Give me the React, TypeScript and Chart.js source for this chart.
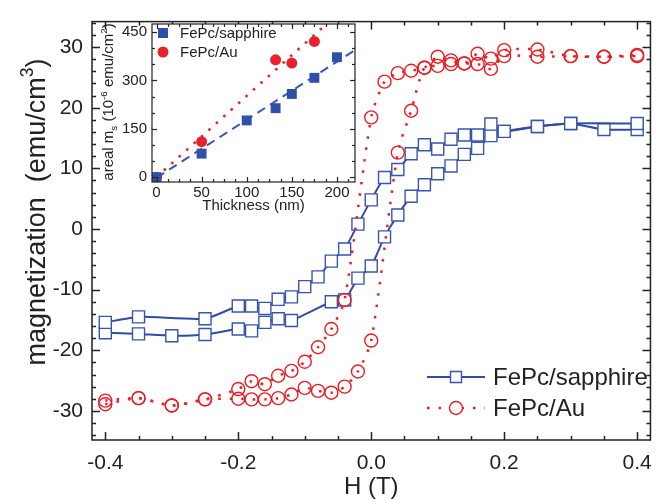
import React, { useEffect, useRef } from 'react';
import { Chart, registerables } from 'chart.js';
Chart.register(...registerables);

const FONT = '"Liberation Sans", Arial, Helvetica, sans-serif';
const INK = '#222222';
const BLUE = '#3556ae';
const BLUE_LINE = '#2e4ca2';
const RED = '#ec1c24';

// ---- main panel: magnetization (emu/cm^3) vs H (T) ----
// FePc/sapphire, descending-field branch (listed by increasing H)
const H_SAP_DOWN = [-0.40, -0.35, -0.25, -0.20, -0.18, -0.16, -0.14, -0.12, -0.10, -0.08, -0.06, -0.04, -0.02, 0.00, 0.02, 0.04, 0.06, 0.08, 0.10, 0.12, 0.14, 0.16, 0.18, 0.20, 0.25, 0.30, 0.40];
const M_SAP_DOWN = [-15.4, -14.5, -14.8, -12.7, -12.7, -13.1, -11.6, -11.2, -9.5, -7.9, -5.3, -3.3, 0.8, 4.8, 8.5, 9.8, 12.4, 13.9, 13.2, 14.8, 15.5, 15.5, 17.3, 16.1, 16.9, 17.4, 17.4];
// FePc/sapphire, ascending-field branch
const H_SAP_UP = [-0.40, -0.35, -0.30, -0.25, -0.20, -0.18, -0.16, -0.14, -0.12, -0.06, -0.04, -0.02, 0.00, 0.02, 0.04, 0.06, 0.08, 0.10, 0.12, 0.14, 0.16, 0.18, 0.20, 0.25, 0.30, 0.35, 0.40];
const M_SAP_UP = [-17.1, -17.3, -17.6, -17.4, -16.5, -16.8, -15.4, -14.8, -15.1, -12.0, -11.7, -8.1, -6.1, -1.3, 2.3, 5.4, 7.3, 9.1, 10.4, 12.3, 13.3, 15.4, 16.1, 16.9, 17.4, 16.4, 16.4];
// FePc/Au, descending-field branch
const H_AU_DOWN = [-0.40, -0.35, -0.30, -0.25, -0.20, -0.18, -0.16, -0.14, -0.12, -0.10, -0.08, -0.06, -0.04, 0.00, 0.02, 0.04, 0.06, 0.08, 0.10, 0.12, 0.14, 0.16, 0.18, 0.20, 0.25, 0.30, 0.35, 0.40];
const M_AU_DOWN = [-28.3, -27.9, -29.1, -28.1, -26.4, -25.1, -25.6, -24.2, -23.4, -21.9, -19.5, -16.5, -11.7, 18.4, 24.3, 25.7, 26.1, 26.6, 28.4, 27.8, 27.3, 28.9, 28.1, 29.5, 29.6, 28.5, 28.4, 28.7];
// FePc/Au, ascending-field branch
const H_AU_UP = [-0.40, -0.35, -0.30, -0.25, -0.20, -0.18, -0.16, -0.14, -0.12, -0.10, -0.08, -0.06, -0.04, -0.02, 0.00, 0.04, 0.06, 0.08, 0.10, 0.12, 0.14, 0.16, 0.18, 0.20, 0.25, 0.30, 0.35, 0.40];
const M_AU_UP = [-28.9, -27.9, -29.1, -28.1, -28.0, -28.1, -28.1, -27.9, -27.3, -26.2, -26.7, -27.0, -26.0, -23.5, -18.4, 12.6, 19.5, 26.6, 26.9, 27.2, 27.3, 27.2, 26.4, 28.5, 28.4, 28.5, 28.4, 28.5];

const SERIES_NAMES = ['FePc/sapphire', 'FePc/Au'];
const X_TITLE = 'H (T)';
const Y_TITLE_MAIN = 'magnetization  (emu/cm';
const Y_TITLE_SUP = '3';

// ---- inset: areal m_s vs thickness ----
const T_SAP = [0, 50, 100, 132, 150, 175, 200];
const MS_SAP = [0, 73, 176, 214, 258, 308, 372];
const T_AU = [0, 50, 132, 150, 175];
const MS_AU = [0, 110, 364, 354, 421];
const FIT_T_SAP = [0, 220];
const FIT_MS_SAP = [-2, 394];
const FIT_T_AU = [0, 188];
const FIT_MS_AU = [0, 474];
const INSET_X_TITLE = 'Thickness (nm)';

const toXY = (xs: number[], ys: number[]) => xs.map((x, i) => ({ x, y: ys[i] }));

const framePlugin = {
  id: 'frame',
  afterDraw(chart: any, _a: any, opts: any) {
    const { ctx, chartArea: a, scales } = chart;
    const xs = scales.x, ys = scales.y;
    ctx.save();
    ctx.strokeStyle = opts.color;
    ctx.lineWidth = opts.lineWidth;
    const seg = (x1: number, y1: number, x2: number, y2: number) => {
      ctx.beginPath(); ctx.moveTo(x1, y1); ctx.lineTo(x2, y2); ctx.stroke();
    };
    const isMajor = (v: number, step: number) => Math.abs(v / step - Math.round(v / step)) < 1e-6;
    const i0x = Math.ceil(xs.min / opts.xMinor - 1e-9);
    for (let i = i0x; i * opts.xMinor <= xs.max + 1e-9; i++) {
      const v = i * opts.xMinor;
      const len = isMajor(v, opts.xMajor) ? opts.majorLen : opts.minorLen;
      const p = Math.round(xs.getPixelForValue(v)) + 0.5;
      seg(p, a.bottom, p, a.bottom - len);
      seg(p, a.top, p, a.top + len);
    }
    const i0y = Math.ceil(ys.min / opts.yMinor - 1e-9);
    for (let i = i0y; i * opts.yMinor <= ys.max + 1e-9; i++) {
      const v = i * opts.yMinor;
      const len = isMajor(v, opts.yMajor) ? opts.majorLen : opts.minorLen;
      const p = Math.round(ys.getPixelForValue(v)) + 0.5;
      seg(a.left, p, a.left + len, p);
      seg(a.right, p, a.right - len, p);
    }
    ctx.strokeRect(a.left, a.top, a.right - a.left, a.bottom - a.top);
    ctx.restore();
  },
};

const whiteAreaPlugin = {
  id: 'whiteArea',
  beforeDraw(chart: any) {
    const { ctx, chartArea: a } = chart;
    ctx.save();
    ctx.fillStyle = '#ffffff';
    ctx.fillRect(a.left, a.top, a.right - a.left, a.bottom - a.top);
    ctx.restore();
  },
};

const drawMarker = (ctx: any, style: string, x: number, y: number, r: number, fill: string | null, stroke: string, lw: number) => {
  ctx.beginPath();
  if (style === 'rect') {
    ctx.rect(x - r, y - r, 2 * r, 2 * r);
  } else {
    ctx.arc(x, y, r, 0, Math.PI * 2);
  }
  if (fill) { ctx.fillStyle = fill; ctx.fill(); }
  if (lw > 0) { ctx.lineWidth = lw; ctx.strokeStyle = stroke; ctx.stroke(); }
};

const legendPlugin = {
  id: 'customLegend',
  afterDraw(chart: any, _a: any, opts: any) {
    const { ctx } = chart;
    ctx.save();
    for (const it of opts.items) {
      if (it.lineHalf > 0) {
        ctx.beginPath();
        ctx.setLineDash(it.dash || []);
        ctx.lineWidth = it.lineWidth;
        ctx.strokeStyle = it.lineColor;
        ctx.moveTo(it.x - it.lineHalf, it.y);
        ctx.lineTo(it.x + it.lineHalf, it.y);
        ctx.stroke();
        ctx.setLineDash([]);
      }
      drawMarker(ctx, it.pointStyle, it.x, it.y, it.r, it.fill, it.stroke, it.markerLw);
      ctx.font = `${opts.size}px ${FONT}`;
      ctx.fillStyle = INK;
      ctx.textBaseline = 'middle';
      ctx.textAlign = 'left';
      ctx.fillText(it.label, it.textX, it.y + 1);
    }
    ctx.restore();
  },
};

const richTitlePlugin = {
  id: 'richTitle',
  afterDraw(chart: any, _a: any, opts: any) {
    const { ctx } = chart;
    const base = opts.size;
    const small = base * 0.65;
    const fontFor = (p: any) => `${p.sub || p.sup ? small : base}px ${FONT}`;
    ctx.save();
    ctx.translate(opts.x, opts.y);
    ctx.rotate(-Math.PI / 2);
    let total = 0;
    for (const p of opts.parts) { ctx.font = fontFor(p); total += ctx.measureText(p.t).width; }
    let x = -total / 2;
    ctx.textBaseline = 'alphabetic';
    ctx.textAlign = 'left';
    ctx.fillStyle = INK;
    for (const p of opts.parts) {
      ctx.font = fontFor(p);
      const dy = p.sup ? -base * 0.42 : p.sub ? base * 0.22 : 0;
      ctx.fillText(p.t, x, base * 0.36 + dy);
      x += ctx.measureText(p.t).width;
    }
    ctx.restore();
  },
};

export default function App() {
  const mainRef = useRef<HTMLCanvasElement>(null);
  const insetRef = useRef<HTMLCanvasElement>(null);

  useEffect(() => {
    Chart.defaults.font.family = FONT;
    Chart.defaults.color = INK;

    const auStyle = {
      showLine: true,
      borderColor: RED,
      borderWidth: 2.5,
      borderDash: [2.5, 9],
      borderCapStyle: 'butt',
      tension: 0.25,
      pointStyle: 'circle',
      pointRadius: 6.5,
      pointBorderWidth: 1.4,
      pointBorderColor: RED,
      pointBackgroundColor: 'rgba(255,255,255,0)',
      backgroundColor: 'rgba(0,0,0,0)',
      fill: false,
    };
    const sapStyle = {
      showLine: true,
      borderColor: BLUE_LINE,
      borderWidth: 2,
      tension: 0.2,
      pointStyle: 'rect',
      pointRadius: 8.5,
      pointBorderWidth: 1.4,
      pointBorderColor: BLUE,
      pointBackgroundColor: '#ffffff',
      backgroundColor: '#ffffff',
      fill: false,
    };

    const main = new Chart(mainRef.current as HTMLCanvasElement, {
      type: 'scatter',
      data: {
        datasets: [
          { ...auStyle, label: SERIES_NAMES[1], data: toXY(H_AU_DOWN, M_AU_DOWN) },
          { ...auStyle, label: SERIES_NAMES[1] + ' (up)', data: toXY(H_AU_UP, M_AU_UP) },
          { ...sapStyle, label: SERIES_NAMES[0], data: toXY(H_SAP_DOWN, M_SAP_DOWN) },
          { ...sapStyle, label: SERIES_NAMES[0] + ' (up)', data: toXY(H_SAP_UP, M_SAP_UP) },
        ] as any,
      },
      options: {
        responsive: false,
        animation: false,
        devicePixelRatio: 1,
        layout: { padding: { top: 17, right: 3, left: 0, bottom: 0 } },
        scales: {
          x: {
            type: 'linear',
            min: -0.42,
            max: 0.42,
            afterFit: (s: any) => { s.height = 60; },
            grid: { display: false, drawTicks: false },
            border: { display: false },
            ticks: {
              stepSize: 0.2,
              includeBounds: false,
              padding: 11,
              font: { size: 21 },
              color: INK,
              callback: (v: any) => (Math.abs(v) < 1e-9 ? '0.0' : Number(v).toFixed(1)),
            },
            title: { display: true, text: X_TITLE, font: { size: 24, lineHeight: 1 }, color: INK, padding: { top: 0, bottom: 1 } },
          },
          y: {
            type: 'linear',
            min: -34.8,
            max: 34.2,
            afterFit: (s: any) => { s.width = 92; },
            grid: { display: false, drawTicks: false },
            border: { display: false },
            ticks: { stepSize: 10, includeBounds: false, padding: 9, font: { size: 21 }, color: INK },
            title: { display: false },
          },
        },
        plugins: {
          legend: { display: false },
          tooltip: { enabled: false },
          frame: { color: INK, lineWidth: 1.5, xMajor: 0.2, xMinor: 0.05, yMajor: 10, yMinor: 2, majorLen: 8, minorLen: 4 },
          customLegend: {
            size: 24,
            items: [
              { label: SERIES_NAMES[0], x: 456, y: 377, lineHalf: 29, lineWidth: 2, lineColor: BLUE_LINE, dash: [], pointStyle: 'rect', r: 5.5, fill: '#ffffff', stroke: BLUE, markerLw: 1.4, textX: 493 },
              { label: SERIES_NAMES[1], x: 456, y: 408, lineHalf: 29, lineWidth: 2.5, lineColor: RED, dash: [2.5, 9], pointStyle: 'circle', r: 6.5, fill: '#ffffff', stroke: RED, markerLw: 1.4, textX: 493 },
            ],
          },
          richTitle: {
            x: 35,
            y: 212,
            size: 27,
            parts: [
              { t: Y_TITLE_MAIN },
              { t: Y_TITLE_SUP, sup: true },
              { t: ')' },
            ],
          },
        } as any,
      },
      plugins: [framePlugin, legendPlugin, richTitlePlugin],
    } as any);

    const inset = new Chart(insetRef.current as HTMLCanvasElement, {
      type: 'scatter',
      data: {
        datasets: [
          { label: SERIES_NAMES[0], data: toXY(T_SAP, MS_SAP), pointStyle: 'rect', pointRadius: 7, pointBackgroundColor: '#2f50a8', pointBorderColor: '#2f50a8', pointBorderWidth: 0, showLine: false },
          { label: SERIES_NAMES[1], data: toXY(T_AU, MS_AU), pointStyle: 'circle', pointRadius: 5.5, pointBackgroundColor: '#e8212b', pointBorderColor: '#e8212b', pointBorderWidth: 0, showLine: false },
          { label: 'fit sapphire', data: toXY(FIT_T_SAP, FIT_MS_SAP), showLine: true, pointRadius: 0, borderColor: '#3558b0', borderWidth: 2, borderDash: [9, 6], borderCapStyle: 'butt' },
          { label: 'fit Au', data: toXY(FIT_T_AU, FIT_MS_AU), showLine: true, pointRadius: 0, borderColor: RED, borderWidth: 2.5, borderDash: [2.5, 7.5], borderCapStyle: 'butt' },
        ] as any,
      },
      options: {
        responsive: false,
        animation: false,
        devicePixelRatio: 1,
        layout: { padding: { top: 12, right: 15, left: 0, bottom: 0 } },
        scales: {
          x: {
            type: 'linear',
            min: -5,
            max: 220,
            afterFit: (s: any) => { s.height = 38; },
            grid: { display: false, drawTicks: false },
            border: { display: false },
            ticks: { stepSize: 50, includeBounds: false, padding: 2, font: { size: 15 }, color: INK },
            title: { display: true, text: INSET_X_TITLE, font: { size: 15 }, color: INK, padding: { top: 0, bottom: 5 } },
          },
          y: {
            type: 'linear',
            min: -15,
            max: 475,
            afterFit: (s: any) => { s.width = 57; },
            grid: { display: false, drawTicks: false },
            border: { display: false },
            ticks: { stepSize: 150, includeBounds: false, padding: 5, font: { size: 15 }, color: INK },
          },
        },
        plugins: {
          legend: { display: false },
          tooltip: { enabled: false },
          frame: { color: INK, lineWidth: 1.2, xMajor: 50, xMinor: 12.5, yMajor: 150, yMinor: 50, majorLen: 5, minorLen: 3 },
          customLegend: {
            size: 15,
            items: [
              { label: SERIES_NAMES[0], x: 68, y: 23, lineHalf: 0, pointStyle: 'rect', r: 5, fill: '#2f50a8', stroke: '#2f50a8', markerLw: 0, textX: 85 },
              { label: SERIES_NAMES[1], x: 68, y: 42, lineHalf: 0, pointStyle: 'circle', r: 5.5, fill: '#e8212b', stroke: '#e8212b', markerLw: 0, textX: 85 },
            ],
          },
          richTitle: {
            x: 13,
            y: 92,
            size: 15,
            parts: [
              { t: 'areal m' },
              { t: 's', sub: true },
              { t: ' (10' },
              { t: '-6', sup: true },
              { t: ' emu/cm' },
              { t: '2', sup: true },
              { t: ')' },
            ],
          },
        } as any,
      },
      plugins: [whiteAreaPlugin, framePlugin, legendPlugin, richTitlePlugin],
    } as any);

    return () => {
      main.destroy();
      inset.destroy();
    };
  }, []);

  return (
    <div style={{ position: 'absolute', left: 0, top: 0, width: 663, height: 500, background: '#ffffff' }}>
      <canvas ref={mainRef} width={663} height={500} style={{ position: 'absolute', left: 0, top: 0 }} />
      <canvas ref={insetRef} width={275} height={210} style={{ position: 'absolute', left: 95, top: 10 }} />
    </div>
  );
}
